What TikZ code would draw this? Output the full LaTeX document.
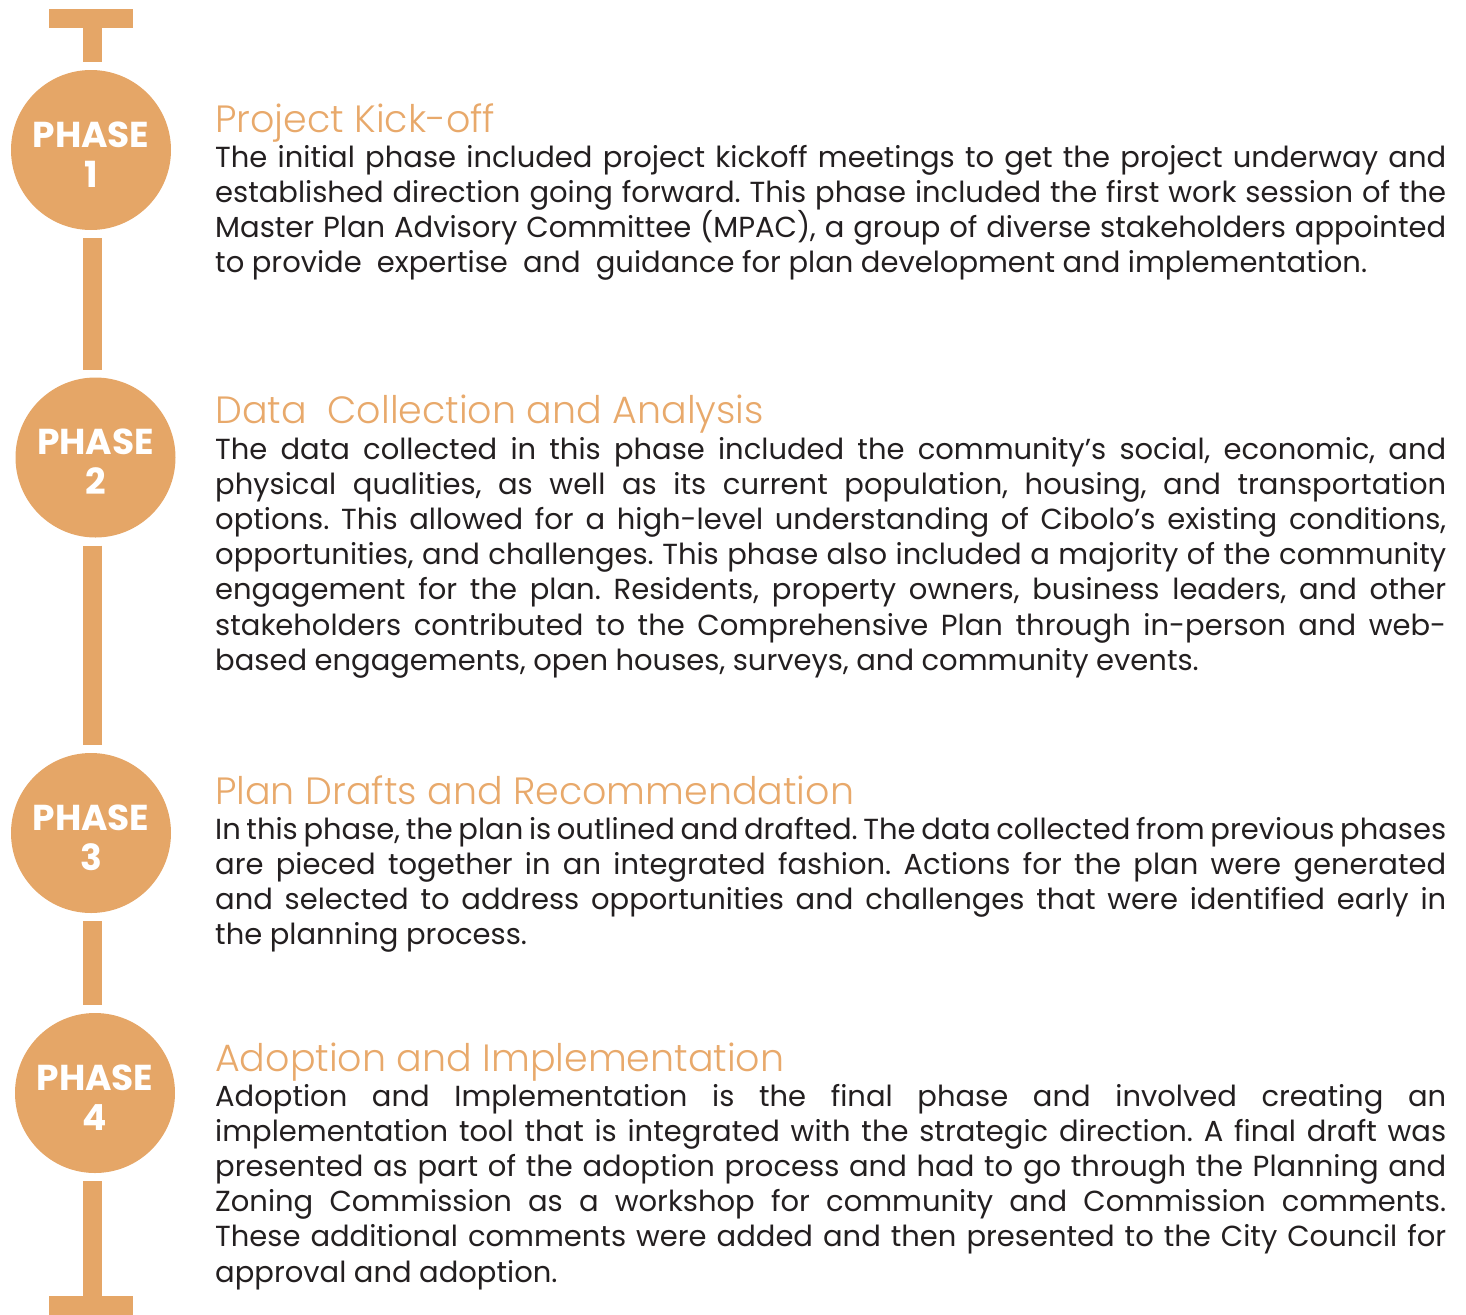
\documentclass[tikz,border=0pt]{standalone}
\usepackage{fontspec}
\setmainfont{Poppins}
\newfontfamily\headfont{Poppins Light}
\newfontfamily\phasefont{Poppins Bold}
\definecolor{accent}{HTML}{E5A667}
\definecolor{headc}{HTML}{E8A96B}
\definecolor{bodyc}{HTML}{231F20}

% body text block width and line helpers
\newlength\bw
\setlength\bw{1231pt}
\newcommand\jl[1]{\hbox to \bw{#1}}
\newcommand\lastl[1]{\hbox{#1}}
\newcommand\bodytype{\fontsize{29}{35.2}\selectfont
  \spaceskip=0.26em plus 0.6em minus 0.12em\relax}

\begin{document}
\frenchspacing
\begin{tikzpicture}[x=1pt,y=-1pt,
  spine/.style={draw=accent,line width=19pt},
  phasecircle/.style={circle,fill=accent,minimum size=160pt,inner sep=0pt,outer sep=8pt},
  phaselbl/.style={text=white,inner sep=0pt,anchor=base,font=\phasefont\fontsize{36}{36}\selectfont},
  head/.style={text=headc,inner sep=0pt,anchor=base west,font=\headfont\fontsize{38}{38}\selectfont},
  body/.style={text=bodyc,inner sep=0pt,anchor=base west,font=\bodytype}]
\useasboundingbox (0,0) rectangle (1466,1314);

% spine position
\coordinate (sx) at (92,0);
\coordinate (topstem) at (92,28);
\coordinate (botstem) at (92,1296);

% phase circles
\node[phasecircle] (c1) at (91,150) {};
\node[phasecircle] (c2) at (95.5,457.5) {};
\node[phasecircle] (c3) at (91,833) {};
\node[phasecircle] (c4) at (95,1093) {};

% spine segments and end caps
\draw[spine] (49,18.5) -- (133,18.5);
\draw[spine] (topstem) -- (c1.north -| sx);
\draw[spine] (c1.south -| sx) -- (c2.north -| sx);
\draw[spine] (c2.south -| sx) -- (c3.north -| sx);
\draw[spine] (c3.south -| sx) -- (c4.north -| sx);
\draw[spine] (c4.south -| sx) -- (botstem);
\draw[spine] (49,1305) -- (133,1305);

% circle labels
\foreach \i in {1,2,3,4}{
  \node[phaselbl] (p\i a) at ([yshift=3pt]c\i.center) {PHASE};
  \node[phaselbl] (p\i b) at ([yshift=-37pt]c\i.center) {\i};
}

% phase 1
\node[head] (h1) at (215,132) {Project Kick-off};
\node[body] (b1) at (215,167) {\vtop{%
\jl{The initial phase included project kickoff meetings to get the project underway and}
\jl{established direction going forward. This phase included the first work session of the}
\jl{Master Plan Advisory Committee (MPAC), a group of diverse stakeholders appointed}
\lastl{to provide\ \ expertise\ \ and\ \ guidance for plan development and implementation.}}};

% phase 2
\node[head] (h2) at (215,423) {Data\ \ Collection and Analysis};
\node[body] (b2) at (215,459) {\vtop{%
\jl{The data collected in this phase included the community’s social, economic, and}
\jl{physical qualities, as well as its current population, housing, and transportation}
\jl{options. This allowed for a high-level understanding of Cibolo’s existing conditions,}
\jl{opportunities, and challenges. This phase also included a majority of the community}
\jl{engagement for the plan. Residents, property owners, business leaders, and other}
\jl{stakeholders contributed to the Comprehensive Plan through in-person and web-}
\lastl{based engagements, open houses, surveys, and community events.}}};

% phase 3
\node[head] (h3) at (215,804) {Plan Drafts and Recommendation};
\node[body] (b3) at (215,839) {\vtop{%
\jl{In this phase, the plan is outlined and drafted. The data collected from previous phases}
\jl{are pieced together in an integrated fashion. Actions for the plan were generated}
\jl{and selected to address opportunities and challenges that were identified early in}
\lastl{the planning process.}}};

% phase 4
\node[head] (h4) at (215,1071) {Adoption and Implementation};
\node[body] (b4) at (215,1106) {\vtop{%
\jl{Adoption and Implementation is the final phase and involved creating an}
\jl{implementation tool that is integrated with the strategic direction. A final draft was}
\jl{presented as part of the adoption process and had to go through the Planning and}
\jl{Zoning Commission as a workshop for community and Commission comments.}
\jl{These additional comments were added and then presented to the City Council for}
\lastl{approval and adoption.}}};
\end{tikzpicture}
\end{document}
